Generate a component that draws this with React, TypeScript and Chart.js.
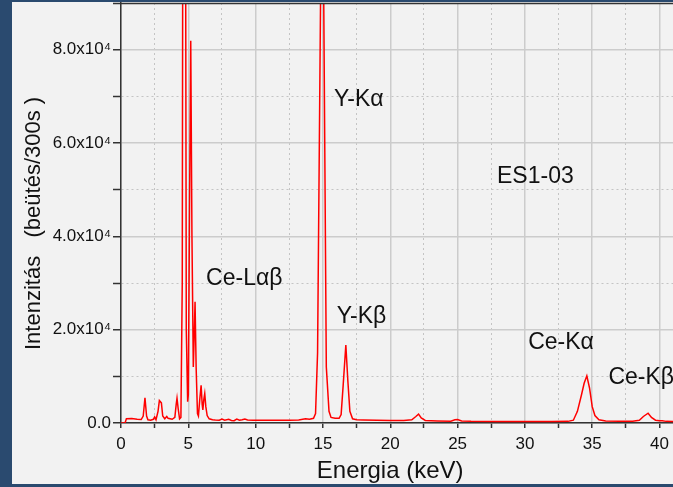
import React, { useEffect, useRef } from 'react';
import { Chart, registerables } from 'chart.js';

Chart.register(...registerables);

// Spectrum (energy in keV, counts per 300 s)
const energies = [
  0, 0.3, 0.4, 0.8, 1.2, 1.5, 1.65, 1.78, 1.9, 2.0, 2.2, 2.4, 2.5, 2.6, 2.75, 2.85, 3.0, 3.1, 3.25, 3.4,
  3.5, 3.8, 4.0, 4.1, 4.16, 4.25, 4.35, 4.45, 4.55, 4.68, 4.85, 4.95, 5.0, 5.1, 5.18, 5.27, 5.37, 5.45,
  5.5, 5.58, 5.68, 5.75, 5.85, 5.95, 6.03, 6.08, 6.15, 6.22, 6.3, 6.4, 6.55, 6.8, 7.0, 7.3, 7.5, 7.7,
  8.0, 8.2, 8.4, 8.6, 8.8, 9.0, 9.2, 9.4, 9.8, 10.5, 11.5, 12.5, 13.2, 13.7, 14.0, 14.3, 14.45, 14.6,
  14.82, 14.95, 15.06, 15.25, 15.45, 15.6, 15.9, 16.2, 16.35, 16.5, 16.7, 16.85, 17.0, 17.2, 17.5, 18,
  19, 20, 21, 21.6, 21.9, 22.1, 22.3, 22.6, 23.5, 24.5, 24.8, 25.0, 25.3, 26, 28, 30, 32, 33.2, 33.6,
  33.9, 34.2, 34.4, 34.6, 34.8, 35.0, 35.2, 35.5, 36, 37, 38, 38.5, 38.8, 39.15, 39.4, 39.7, 40.0, 40.2,
  40.5, 41,
];
const counts = [
  0, 0, 900, 950, 800, 750, 1500, 5400, 1500, 700, 600, 800, 1300, 700, 2500, 4800, 4300, 1500, 900, 1400,
  1000, 800, 1200, 4000, 5300, 3000, 900, 1200, 30000, 300000, 20000, 4570, 6000, 50000, 81900, 40000, 12000, 20000,
  26000, 12000, 2000, 1500, 5000, 8100, 4000, 2800, 5000, 6300, 3500, 1600, 900, 700, 650, 600, 850, 600,
  800, 550, 500, 850, 600, 700, 850, 650, 600, 600, 600, 600, 650, 900, 800, 1000, 2000, 15000,
  90000, 500000, 90000, 12000, 2500, 1200, 1000, 1000, 1800, 8000, 16700, 9000, 2500, 900, 700, 650,
  600, 550, 550, 700, 1400, 1900, 1100, 550, 450, 400, 700, 750, 450, 350, 300, 300, 300, 350, 600,
  2500, 6000, 8500, 10100, 7500, 3500, 1600, 700, 450, 400, 400, 600, 1400, 2100, 1200, 600, 500, 500,
  350, 300,
];

const yTickLabels = ['0.0', '2.0x10⁴', '4.0x10⁴', '6.0x10⁴', '8.0x10⁴'];
const xMin = 0;
const xMax = 41;
const yMax = 90000;

const peakNames = ['Y-Kα', 'ES1-03', 'Ce-Lαβ', 'Y-Kβ', 'Ce-Kα', 'Ce-Kβ'];
const peakLabelEnergy = [15.82, 27.93, 6.32, 16.03, 30.24, 36.2];
const peakLabelCount = [69200, 52700, 30900, 22800, 17150, 9700];

const FONT = '"Liberation Sans", Arial, sans-serif';
const BLUE = '#2a4a6f';

const framePlugin = {
  id: 'frame',
  beforeDraw(chart: any) {
    const { ctx, width, height } = chart;
    ctx.save();
    ctx.fillStyle = '#f2f2f2';
    ctx.fillRect(0, 0, width, height);
    ctx.restore();
  },
  afterDraw(chart: any) {
    const { ctx, width, height, chartArea, scales } = chart;
    ctx.save();
    // top axis line
    ctx.strokeStyle = '#333333';
    ctx.lineWidth = 1.5;
    ctx.beginPath();
    ctx.moveTo(chartArea.left, chartArea.top + 0.5);
    ctx.lineTo(chartArea.right, chartArea.top + 0.5);
    ctx.stroke();

    // peak annotations
    ctx.fillStyle = '#111111';
    ctx.font = `23px ${FONT}`;
    ctx.textAlign = 'left';
    ctx.textBaseline = 'middle';
    peakNames.forEach((name, i) => {
      const px = scales.x.getPixelForValue(peakLabelEnergy[i]);
      const py = scales.y.getPixelForValue(peakLabelCount[i]);
      ctx.fillText(name, px, py);
    });

    // axis titles
    ctx.font = `24px ${FONT}`;
    ctx.textAlign = 'right';
    ctx.textBaseline = 'alphabetic';
    ctx.fillText('Energia (keV)', 463.5, 478);

    ctx.save();
    ctx.font = `22px ${FONT}`;
    ctx.translate(39.5, 350);
    ctx.rotate(-Math.PI / 2);
    ctx.textAlign = 'left';
    ctx.fillText('Intenzitás   (beütés/300s )', 0, 0);
    ctx.restore();

    // frame
    ctx.fillStyle = BLUE;
    ctx.fillRect(0, 0, 12, height);
    ctx.fillRect(0, 0, width, 2);
    ctx.fillRect(0, 484, width, height - 484);
    ctx.restore();
  },
};

export default function App() {
  const ref = useRef<HTMLCanvasElement>(null);

  useEffect(() => {
    if (!ref.current) return;
    const data = energies.map((e, i) => ({ x: e, y: counts[i] }));
    const chart = new Chart(ref.current, {
      type: 'line',
      data: {
        datasets: [
          {
            data,
            borderColor: '#ff0000',
            borderWidth: 1.5,
            pointRadius: 0,
            tension: 0,
            fill: false,
          },
        ],
      },
      options: {
        animation: false,
        responsive: false,
        devicePixelRatio: 1,
        layout: { padding: { left: 12, top: 3, right: 0, bottom: 3 } },
        plugins: { legend: { display: false }, tooltip: { enabled: false } },
        scales: {
          x: {
            type: 'linear',
            min: xMin,
            max: xMax,
            afterFit(scale: any) {
              scale.height = 61;
              scale.paddingLeft = 0;
              scale.paddingRight = 0;
            },
            ticks: {
              stepSize: 2.5,
              autoSkip: false,
              maxRotation: 0,
              includeBounds: false,
              padding: 6,
              color: '#111111',
              font: { family: FONT, size: 17 },
              callback: (v: any) => (Number(v) % 5 === 0 ? String(v) : ''),
            },
            grid: {
              color: (c: any) => (c.tick && c.tick.value % 5 !== 0 ? '#c4c4c4' : '#cccccc'),
              lineWidth: (c: any) => (c.tick && c.tick.value % 5 !== 0 ? 1 : 1.5),
              tickColor: '#333333',
              tickLength: 5,
              tickWidth: 1.5,
            },
            border: {
              color: '#333333',
              width: 1.5,
              dash: (c: any) => (c.tick && c.tick.value % 5 !== 0 ? [2, 3] : []),
            },
          },
          y: {
            type: 'linear',
            min: 0,
            max: yMax,
            afterFit(scale: any) {
              scale.width = 109;
              scale.paddingTop = 0;
              scale.paddingBottom = 0;
            },
            ticks: {
              stepSize: 10000,
              autoSkip: false,
              includeBounds: false,
              padding: 2,
              color: '#111111',
              font: { family: FONT, size: 17 },
              callback: (v: any) => {
                const n = Number(v);
                return n % 20000 === 0 ? yTickLabels[n / 20000] ?? '' : '';
              },
            },
            grid: {
              color: (c: any) => (c.tick && c.tick.value % 20000 !== 0 ? '#c4c4c4' : '#cccccc'),
              lineWidth: (c: any) => (c.tick && c.tick.value % 20000 !== 0 ? 1 : 1.5),
              tickColor: '#333333',
              tickLength: 8,
              tickWidth: 1.5,
            },
            border: {
              color: '#333333',
              width: 1.5,
              dash: (c: any) => (c.tick && c.tick.value % 20000 !== 0 ? [2, 3] : []),
            },
          },
        },
      },
      plugins: [framePlugin],
    });
    return () => chart.destroy();
  }, []);

  return (
    <div style={{ position: 'absolute', left: 0, top: 0, width: 673, height: 487 }}>
      <canvas ref={ref} width={673} height={487} />
    </div>
  );
}
